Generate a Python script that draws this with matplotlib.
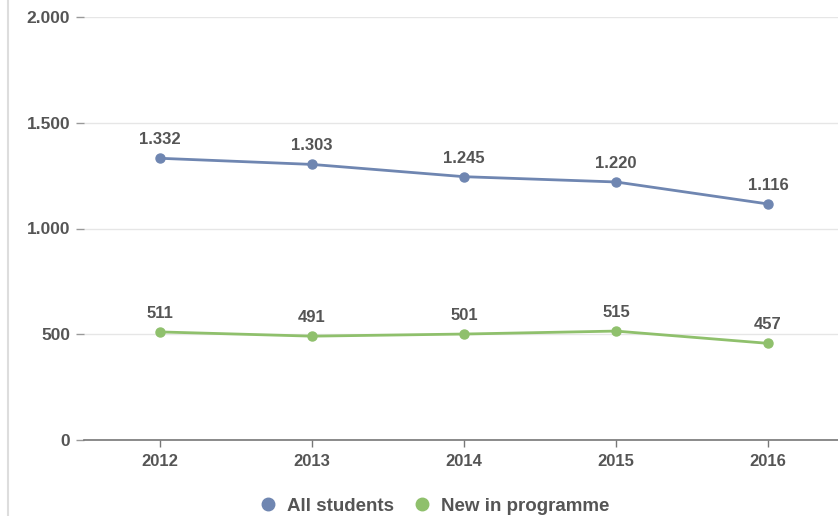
import matplotlib.pyplot as plt
import matplotlib.lines as mlines

years = ['2012', '2013', '2014', '2015', '2016']
all_students = [1332, 1303, 1245, 1220, 1116]
new_in_programme = [511, 491, 501, 515, 457]
y_ticks = [0, 500, 1000, 1500, 2000]
y_tick_labels = ['0', '500', '1.000', '1.500', '2.000']

blue = '#6f86b1'
green = '#8fc06c'
text_color = '#555555'

plt.rcParams['font.family'] = ['Liberation Sans', 'DejaVu Sans']
plt.rcParams['font.weight'] = 'bold'

fig = plt.figure(figsize=(8.38, 5.16), dpi=100)
ax = fig.add_axes([84 / 838, 76 / 516, 760 / 838, 423 / 516])

x = range(len(years))
ax.plot(x, all_students, color=blue, lw=2, marker='o', ms=6.5, zorder=3)
ax.plot(x, new_in_programme, color=green, lw=2, marker='o', ms=6.5, zorder=3)

def fmt(v):
    return f'{v:,}'.replace(',', '.')

for i in x:
    ax.annotate(fmt(all_students[i]), (i, all_students[i]), xytext=(0, 8),
                textcoords='offset points', ha='center', va='bottom',
                fontsize=12, color=text_color, fontweight='bold')
    ax.annotate(fmt(new_in_programme[i]), (i, new_in_programme[i]), xytext=(0, 8),
                textcoords='offset points', ha='center', va='bottom',
                fontsize=12, color=text_color, fontweight='bold')

ax.set_xlim(-0.5, 4.5)
ax.set_ylim(0, 2000)
ax.set_xticks(list(x))
ax.set_xticklabels(years)
ax.set_yticks(y_ticks)
ax.set_yticklabels(y_tick_labels)

ax.grid(axis='y', color='#e6e6e6', lw=1)
ax.set_axisbelow(True)
for s in ['top', 'right', 'left']:
    ax.spines[s].set_visible(False)
ax.spines['bottom'].set_color('#777777')
ax.spines['bottom'].set_linewidth(1.2)

ax.tick_params(axis='x', colors='#777777', length=5, width=1, labelsize=12,
               labelcolor=text_color, pad=5)
ax.tick_params(axis='y', colors='#999999', length=6, width=1, labelsize=12.5,
               labelcolor=text_color, pad=4)

# left border of the panel
fig.add_artist(mlines.Line2D([8 / 838, 8 / 838], [0, 1], color='#dddddd', lw=1.5,
                             transform=fig.transFigure))

handles = [
    mlines.Line2D([], [], color=blue, marker='o', ls='none', ms=9, label='All students'),
    mlines.Line2D([], [], color=green, marker='o', ls='none', ms=9, label='New in programme'),
]
leg = fig.legend(handles=handles, loc='center', bbox_to_anchor=(434 / 838, 1 - 506 / 516),
                 ncol=2, frameon=False, handlelength=1.0, handletextpad=0.5,
                 columnspacing=1.0, fontsize=13.5)
for t in leg.get_texts():
    t.set_color(text_color)
    t.set_fontweight('bold')

fig.savefig('out.png', dpi=100)
